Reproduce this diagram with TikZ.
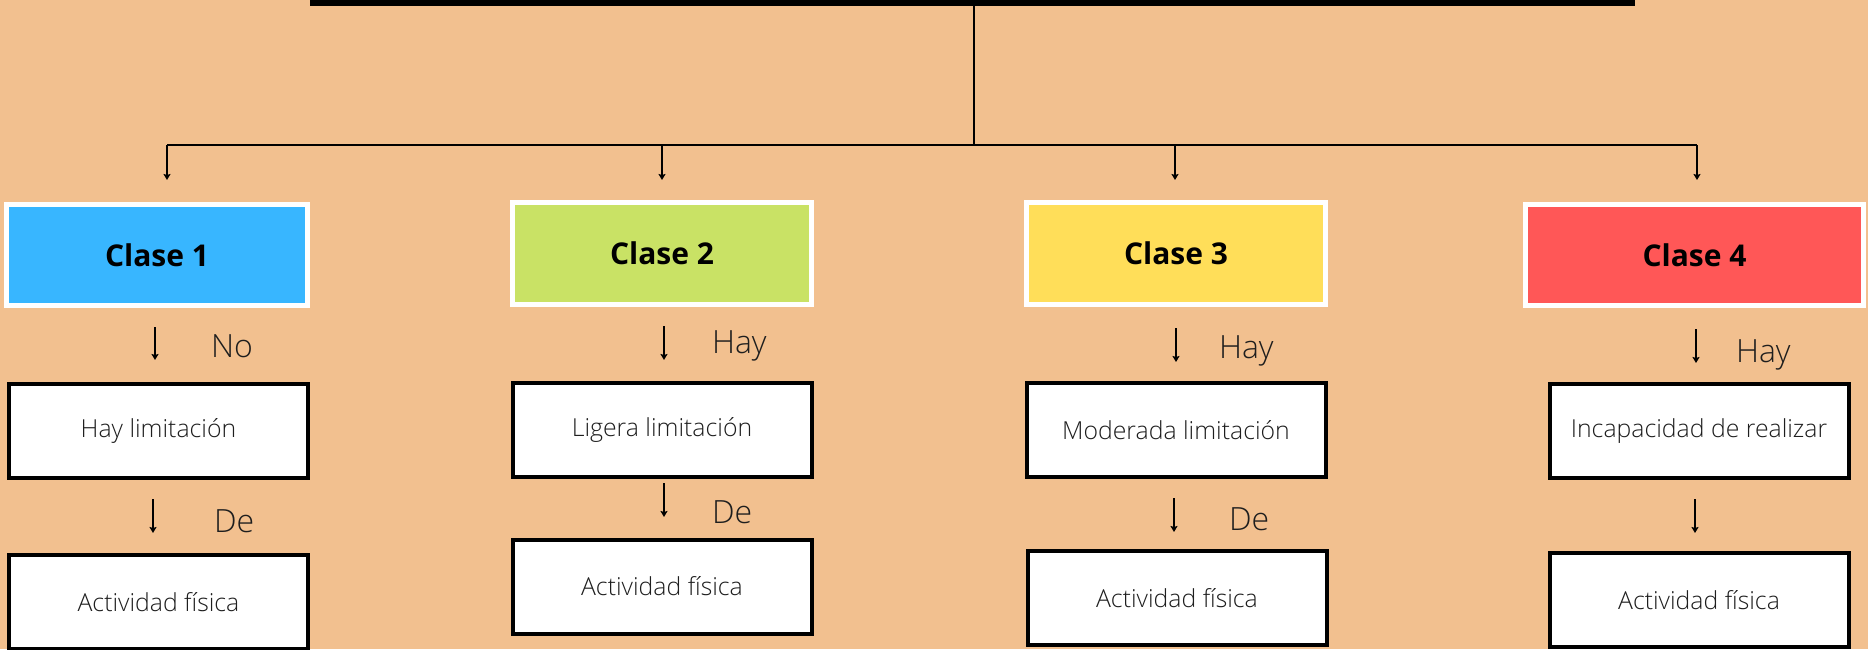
\documentclass[tikz,border=0pt]{standalone}
\usepackage{fontspec}
\setmainfont{Open Sans}
\newfontfamily\lightfont{Open Sans Light}
\usetikzlibrary{arrows.meta}
\definecolor{bg}{HTML}{F2C08F}
\definecolor{cblue}{HTML}{38B6FF}
\definecolor{cgreen}{HTML}{C9E265}
\definecolor{cyellow}{HTML}{FFDE59}
\definecolor{cred}{HTML}{FF5757}
\definecolor{txt}{HTML}{1E1E1E}
\begin{document}
\begin{tikzpicture}[x=1pt,y=-1pt,
  classbox/.style={draw=white, line width=5pt, minimum width=301pt, minimum height=101pt,
    inner sep=0pt, outer sep=0pt, font=\fontsize{30}{34}\selectfont\bfseries, text=black},
  whitebox/.style={draw=black, fill=white, line width=4pt, minimum width=299pt, minimum height=94pt,
    inner sep=0pt, outer sep=0pt, font=\lightfont\fontsize{24.8}{28}\selectfont, text=txt},
  lbl/.style={anchor=base west, inner sep=0pt, outer sep=0pt, font=\lightfont\fontsize{32}{36}\selectfont, text=txt},
  arr/.style={line width=1.8pt, -{Stealth[length=6pt,width=7pt,inset=1pt]}},
  hub line/.style={line width=2pt},
  stem line/.style={line width=1.2pt}]
\useasboundingbox (0,0) rectangle (1868,649);
\fill[bg] (0,0) rectangle (1868,649);

% top bar
\node[fill=black, minimum width=1325pt, minimum height=36pt, inner sep=0pt, outer sep=0pt, anchor=south west] (title) at (310,6) {};

% hub
\coordinate (hub) at (974,145);
\coordinate (h1) at (167,145);
\coordinate (h2) at (662,145);
\coordinate (h3) at (1175,145);
\coordinate (h4) at (1697,145);

% class boxes
\node[classbox, fill=cblue] (c1) at (157,255) {Clase 1};
\node[classbox, fill=cgreen, minimum width=299pt, minimum height=102pt] (c2) at (662,253.5) {Clase 2};
\node[classbox, fill=cyellow, minimum width=299pt, minimum height=102pt] (c3) at (1176,253.5) {Clase 3};
\node[classbox, fill=cred, minimum width=338pt] (c4) at (1694.5,255) {Clase 4};

% white boxes
\node[whitebox] (a1) at (158.5,431) {Hay limitación};
\node[whitebox] (b1) at (158.5,602) {Actividad física};
\node[whitebox] (a2) at (662,430) {Ligera limitación};
\node[whitebox] (b2) at (662,586.5) {Actividad física};
\node[whitebox] (a3) at (1176,430) {Moderada limitación};
\node[whitebox] (b3) at (1177,598) {Actividad física};
\node[whitebox] (a4) at (1699,431) {Incapacidad de realizar};
\node[whitebox] (b4) at (1699,600) {Actividad física};

% connectors from title
\draw[stem line] (title.south -| hub) -- (hub);
\draw[hub line] (h1) -- (h4);
\draw[arr, shorten >=24.5pt] (h1) -- (h1 |- c1.north);
\draw[arr, shorten >=22.5pt] (h2) -- (h2 |- c2.north);
\draw[arr, shorten >=22.5pt] (h3) -- (h3 |- c3.north);
\draw[arr, shorten >=24.5pt] (h4) -- (h4 |- c4.north);

% column arrows
\draw[arr, shorten <=21.5pt, shorten >=24pt] (155,0 |- c1.south) -- (155,0 |- a1.north);
\draw[arr, shorten <=21pt, shorten >=22pt] (153,0 |- a1.south) -- (153,0 |- b1.north);
\draw[arr, shorten <=21.5pt, shorten >=23pt] (664,0 |- c2.south) -- (664,0 |- a2.north);
\draw[arr, shorten <=6pt, shorten >=22.5pt] (664,0 |- a2.south) -- (664,0 |- b2.north);
\draw[arr, shorten <=23.5pt, shorten >=21pt] (1176,0 |- c3.south) -- (1176,0 |- a3.north);
\draw[arr, shorten <=21pt, shorten >=19pt] (1174,0 |- a3.south) -- (1174,0 |- b3.north);
\draw[arr, shorten <=23.5pt, shorten >=21pt] (1696,0 |- c4.south) -- (1696,0 |- a4.north);
\draw[arr, shorten <=21pt, shorten >=20pt] (1695,0 |- a4.south) -- (1695,0 |- b4.north);

% labels
\node[lbl] (l1a) at (211,357) {No};
\node[lbl] (l1b) at (214,532) {De};
\node[lbl] (l2a) at (712,353) {Hay};
\node[lbl] (l2b) at (712,523) {De};
\node[lbl] (l3a) at (1219,358) {Hay};
\node[lbl] (l3b) at (1229,530) {De};
\node[lbl] (l4a) at (1736,362) {Hay};
\end{tikzpicture}
\end{document}
